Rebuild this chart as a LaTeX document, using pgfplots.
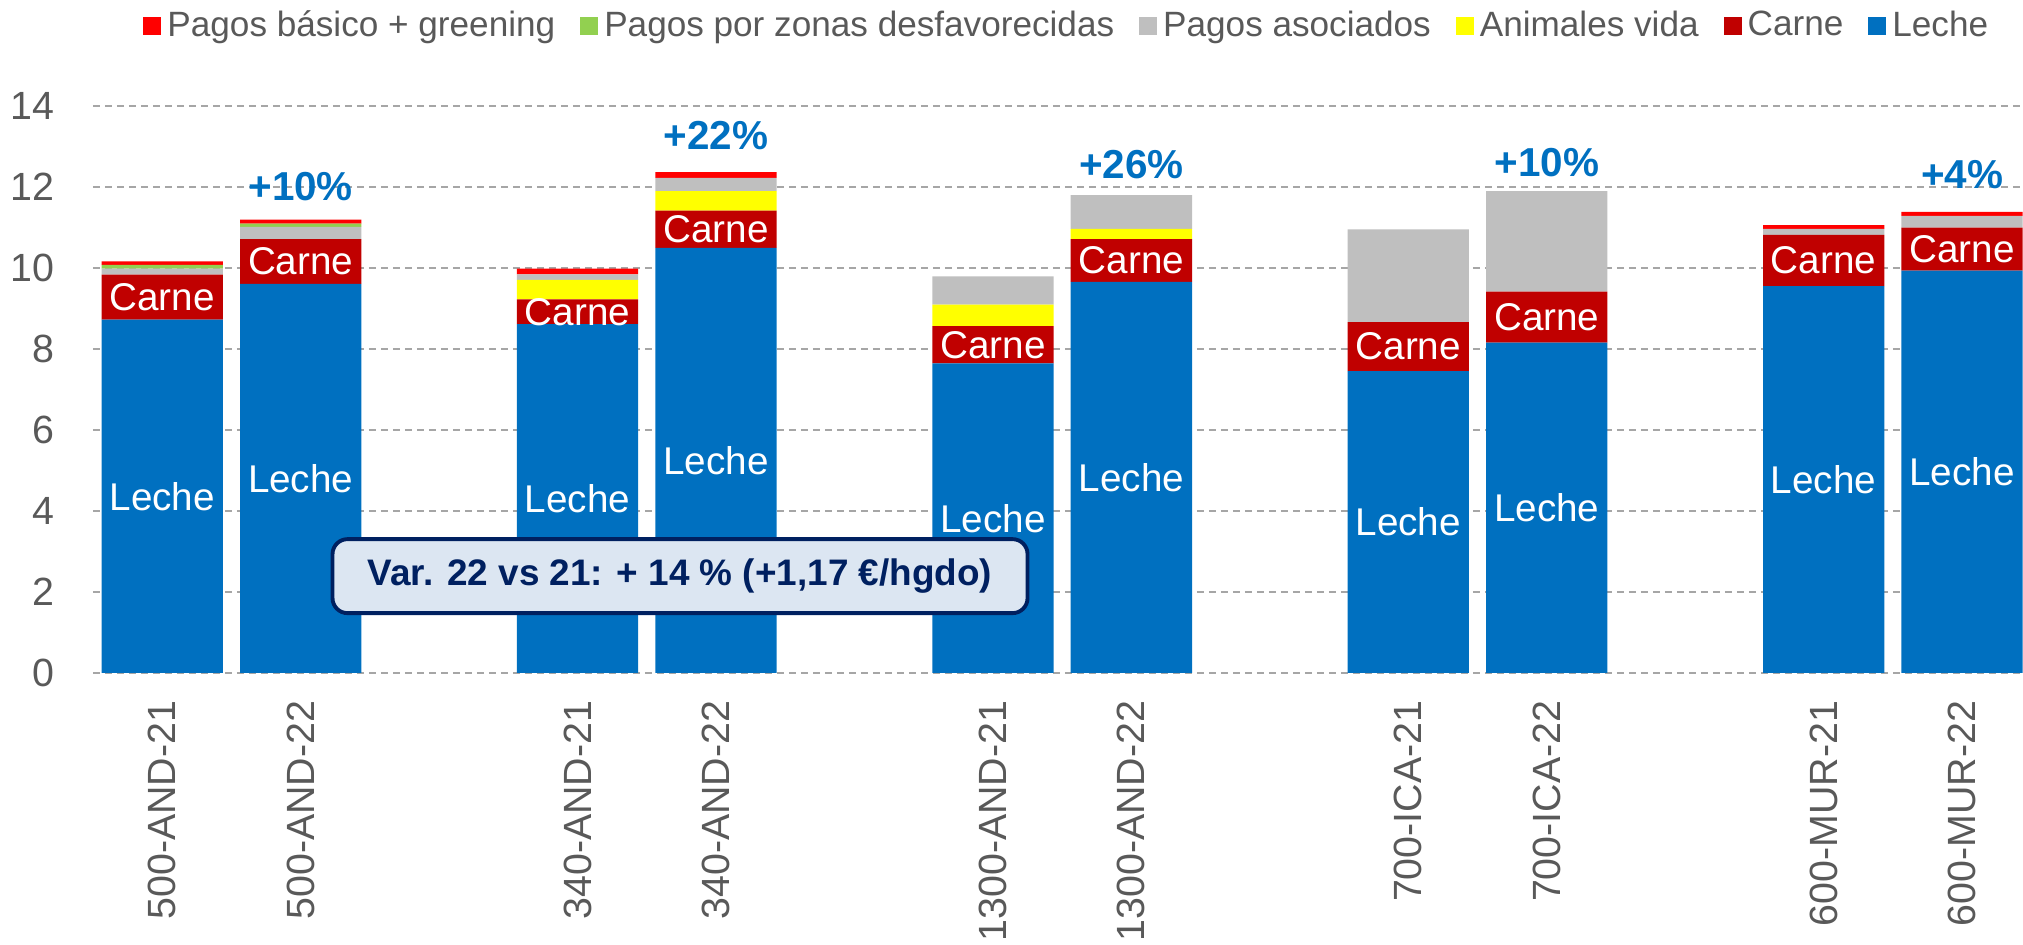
\documentclass[border=0pt]{standalone}
\usepackage{pgfplots}
\pgfplotsset{compat=1.18}
\usepackage{pgfplotstable}
\usepackage{fontspec}
\setmainfont{Liberation Sans}
\definecolor{cLeche}{HTML}{0070C0}
\definecolor{cCarne}{HTML}{C00000}
\definecolor{cVida}{HTML}{FFFF00}
\definecolor{cAsoc}{HTML}{BFBFBF}
\definecolor{cZonas}{HTML}{92D050}
\definecolor{cBasico}{HTML}{FF0000}
\definecolor{tickgray}{HTML}{595959}
\definecolor{gridgray}{HTML}{A6A6A6}
\definecolor{navy}{HTML}{002060}
\definecolor{boxfill}{HTML}{DCE6F2}

\pgfplotstableread{
x  leche carne vida asoc zonas basico
0  8.72  1.11  0    0.15 0.09  0.09
1  9.60  1.11  0    0.30 0.08  0.10
3  8.61  0.61  0.48 0.14 0     0.14
4  10.49 0.92  0.48 0.33 0     0.14
6  7.64  0.92  0.53 0.70 0     0
7  9.65  1.06  0.25 0.83 0     0
9  7.45  1.21  0    2.29 0     0
10 8.15  1.26  0    2.48 0     0
12 9.55  1.26  0    0.15 0     0.09
13 9.93  1.06  0    0.29 0     0.10
}\datatable

\tikzset{seglabel/.style={text=white, font=\fontsize{11}{13}\selectfont, inner sep=0pt},
  varlabel/.style={text=cLeche, font=\bfseries\fontsize{11.5}{13}\selectfont}}

\begin{document}
\begin{tikzpicture}
\useasboundingbox (-9.3mm,-27.2mm) rectangle (193mm,67.3mm);
\begin{axis}[
  at={(0,0)}, anchor=south west,
  scale only axis, width=193mm, height=56.73mm,
  ybar stacked, bar width=0.876,
  xmin=-0.5, xmax=13.44, ymin=0, ymax=14,
  xtick={0,1,3,4,6,7,9,10,12,13},
  xticklabels={500-AND-21,500-AND-22,340-AND-21,340-AND-22,1300-AND-21,1300-AND-22,700-ICA-21,700-ICA-22,600-MUR-21,600-MUR-22},
  ytick={0,2,...,14},
  ymajorgrids,
  grid style={color=gridgray, line width=0.6pt, dash pattern=on 0.7mm off 0.5mm},
  axis line style={draw=none},
  major tick length=0pt,
  /pgf/number format/assume math mode=true,
  tick label style={font=\fontsize{11.2}{13}\selectfont, text=tickgray},
  xticklabel style={rotate=90, anchor=east, inner sep=0pt},
  xticklabel shift=2.7mm,
  yticklabel style={anchor=east, inner sep=0pt},
  yticklabel shift=3.8mm,
  legend columns=-1,
  reverse legend,
  legend image code/.code={\fill[#1] (0mm,-0.9mm) rectangle (1.8mm,0.9mm);},
  legend style={draw=none, fill=none, at={(0.5056,1.1405)}, anchor=center,
    font=\fontsize{10}{12}\selectfont, text=tickgray,
    /tikz/every even column/.append style={column sep=1.9mm},
    nodes={inner xsep=0.6mm}},
]
\addplot[fill=cLeche, draw=none] table[x=x, y=leche] {\datatable};
\addlegendentry{Leche}
\addplot[fill=cCarne, draw=none] table[x=x, y=carne] {\datatable};
\addlegendentry{Carne}
\addplot[fill=cVida, draw=none] table[x=x, y=vida] {\datatable};
\addlegendentry{Animales vida}
\addplot[fill=cAsoc, draw=none] table[x=x, y=asoc] {\datatable};
\addlegendentry{Pagos asociados}
\addplot[fill=cZonas, draw=none] table[x=x, y=zonas] {\datatable};
\addlegendentry{Pagos por zonas desfavorecidas}
\addplot[fill=cBasico, draw=none] table[x=x, y=basico] {\datatable};
\addlegendentry{Pagos básico + greening}

% Leche label anchors
\coordinate (L0) at (axis cs:0,4.36);
\coordinate (L1) at (axis cs:1,4.80);
\coordinate (L3) at (axis cs:3,4.305);
\coordinate (L4) at (axis cs:4,5.245);
\coordinate (L6) at (axis cs:6,3.82);
\coordinate (L7) at (axis cs:7,4.825);
\coordinate (L9) at (axis cs:9,3.725);
\coordinate (L10) at (axis cs:10,4.075);
\coordinate (L12) at (axis cs:12,4.775);
\coordinate (L13) at (axis cs:13,4.965);
% Carne label anchors
\coordinate (C0) at (axis cs:0,9.275);
\coordinate (C1) at (axis cs:1,10.155);
\coordinate (C3) at (axis cs:3,8.915);
\coordinate (C4) at (axis cs:4,10.95);
\coordinate (C6) at (axis cs:6,8.10);
\coordinate (C7) at (axis cs:7,10.18);
\coordinate (C9) at (axis cs:9,8.055);
\coordinate (C10) at (axis cs:10,8.78);
\coordinate (C12) at (axis cs:12,10.18);
\coordinate (C13) at (axis cs:13,10.46);
% variation label anchors
\coordinate (V1) at (axis cs:1,12.0);
\coordinate (V4) at (axis cs:4,13.27);
\coordinate (V7) at (axis cs:7,12.54);
\coordinate (V10) at (axis cs:10,12.6);
\coordinate (V13) at (axis cs:13,12.29);
\coordinate (BOX) at (axis cs:3.74,2.39);
\end{axis}
\foreach \k in {0,1,3,4,6,7,9,10,12,13}{
  \node[seglabel] at (L\k) {Leche};
  \node[seglabel] at (C\k) {Carne};
}
\node[varlabel] at (V1) {+10\%};
\node[varlabel] at (V4) {+22\%};
\node[varlabel] at (V7) {+26\%};
\node[varlabel] at (V10) {+10\%};
\node[varlabel] at (V13) {+4\%};
\node[draw=navy, line width=1.1pt, fill=boxfill, rounded corners=1.5mm,
      minimum width=69.5mm, minimum height=7.4mm, inner sep=0pt,
      font=\bfseries\fontsize{10.5}{12}\selectfont, text=navy]
  at (BOX) {Var. 22 vs 21: + 14 \% (+1,17 €/hgdo)};
\end{tikzpicture}
\end{document}
